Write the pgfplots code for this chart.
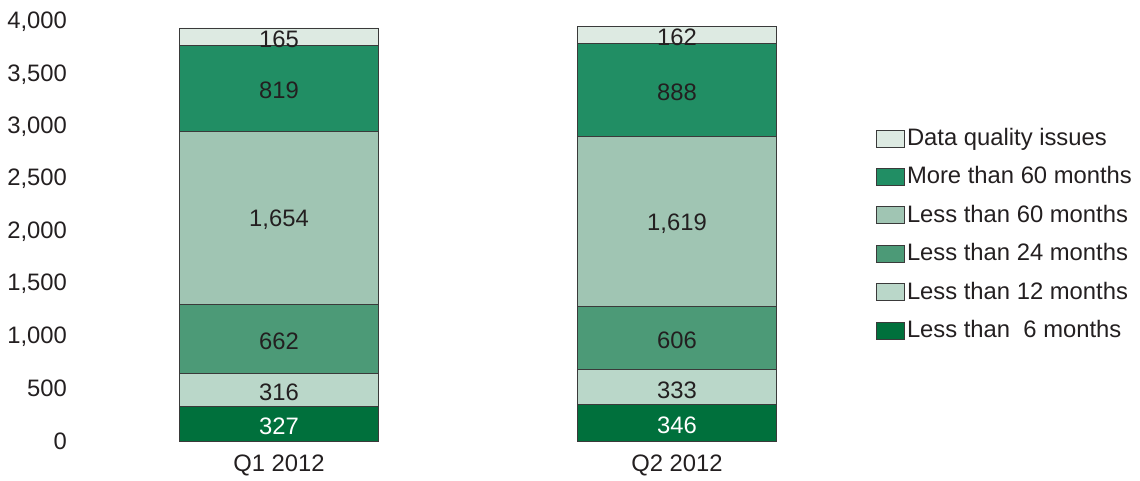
\documentclass[border=0pt]{standalone}
\usepackage{pgfplots}
\pgfplotsset{compat=1.18}
\usepackage{fontspec}
\setmainfont{Liberation Sans}
\definecolor{cA}{HTML}{00703C}
\definecolor{cB}{HTML}{BAD7C9}
\definecolor{cC}{HTML}{4C9A77}
\definecolor{cD}{HTML}{A0C5B3}
\definecolor{cE}{HTML}{218E64}
\definecolor{cF}{HTML}{DDEAE2}
\definecolor{txt}{HTML}{231F20}
\definecolor{edge}{HTML}{3A3A3A}
\pgfplotsset{
  common/.style={
    at={(80pt,39pt)}, anchor=south west,
    scale only axis, width=796pt, height=419pt,
    xmin=-0.5, xmax=1.5, ymin=0, ymax=4000,
  }
}
\begin{document}
\fontsize{23.8}{28}\selectfont
\begin{tikzpicture}
\useasboundingbox (0,0) rectangle (1140pt,480pt);
\begin{axis}[
  common,
  ybar stacked, bar width=199pt,
  xtick={0,1}, xticklabels={Q1 2012, Q2 2012},
  ytick={0,500,...,4000},
  scaled y ticks=false,
  /pgf/number format/assume math mode=true,
  /pgf/number format/1000 sep={,},
  axis line style={draw=none},
  major tick length=0pt,
  tick label style={text=txt},
  yticklabel style={xshift=-5pt},
  xticklabel style={yshift=-6pt},
  legend image code/.code={\draw[#1, draw=edge, line width=0.8pt] (0pt,-8.5pt) rectangle (28pt,8.5pt);},
  reverse legend,
  legend cell align=left,
  legend style={at={(1,0.752)}, anchor=north west, draw=none, fill=none, inner sep=0pt,
    row sep=13.6pt, nodes={text=txt, inner sep=2pt}},
  every axis plot/.append style={draw=edge, line width=0.8pt},
]
\addplot[fill=cA] coordinates {(0,327) (1,346)};
\addplot[fill=cB] coordinates {(0,316) (1,333)};
\addplot[fill=cC] coordinates {(0,662) (1,606)};
\addplot[fill=cD] coordinates {(0,1654) (1,1619)};
\addplot[fill=cE] coordinates {(0,819) (1,888)};
\addplot[fill=cF] coordinates {(0,165) (1,162)};
\legend{Less than\ \ 6 months, Less than 12 months, Less than 24 months, Less than 60 months, More than 60 months, Data quality issues}
\end{axis}
\begin{axis}[
  common, hide axis,
  nodes near coords, point meta=explicit symbolic,
  nodes near coords align={center},
]
\addplot[only marks, mark=none, nodes near coords style={text=white, anchor=center, yshift=-2.5pt}] table[meta=label] {
x y label
0 163.5 327
1 173 346
};
\addplot[only marks, mark=none, nodes near coords style={text=txt, anchor=center, yshift=-2.5pt}] table[meta=label] {
x y label
0 485 316
0 974 662
0 2132 1,654
0 3368.5 819
0 3860.5 165
1 512.5 333
1 982 606
1 2094.5 1,619
1 3348 888
1 3873 162
};
\end{axis}
\end{tikzpicture}
\end{document}
